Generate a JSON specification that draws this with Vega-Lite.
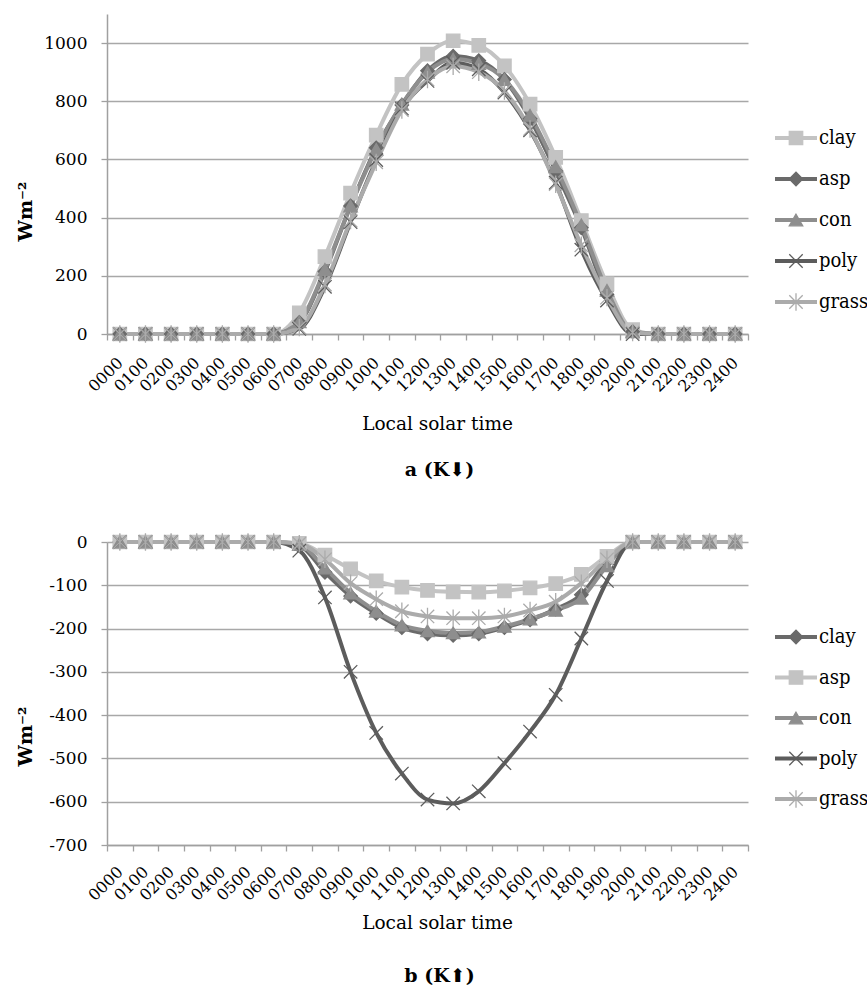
{
  "$schema": "https://vega.github.io/schema/vega-lite/v6.json",
  "padding": {"left": 16, "top": 14, "right": 0, "bottom": 0},
  "background": "white",
  "config": {
    "font": "DejaVu Serif",
    "view": {"stroke": null},
    "axis": {"labelFont": "DejaVu Serif", "titleFont": "DejaVu Serif", "labelColor": "black", "titleColor": "black"},
    "title": {"font": "DejaVu Serif", "color": "black"},
    "text": {"font": "DejaVu Serif"}
  },
  "datasets": {
    "top": [
      {"t": "0000", "clay": 0, "asp": 0, "con": 0, "poly": 0, "grass": 0},
      {"t": "0100", "clay": 0, "asp": 0, "con": 0, "poly": 0, "grass": 0},
      {"t": "0200", "clay": 0, "asp": 0, "con": 0, "poly": 0, "grass": 0},
      {"t": "0300", "clay": 0, "asp": 0, "con": 0, "poly": 0, "grass": 0},
      {"t": "0400", "clay": 0, "asp": 0, "con": 0, "poly": 0, "grass": 0},
      {"t": "0500", "clay": 0, "asp": 0, "con": 0, "poly": 0, "grass": 0},
      {"t": "0600", "clay": 0, "asp": 0, "con": 0, "poly": 0, "grass": 0},
      {"t": "0700", "clay": 73, "asp": 40, "con": 42, "poly": 18, "grass": 22},
      {"t": "0800", "clay": 266, "asp": 215, "con": 222, "poly": 162, "grass": 170},
      {"t": "0900", "clay": 484, "asp": 440, "con": 440, "poly": 385, "grass": 390},
      {"t": "1000", "clay": 684, "asp": 640, "con": 635, "poly": 598, "grass": 590},
      {"t": "1100", "clay": 858, "asp": 787, "con": 790, "poly": 775, "grass": 770},
      {"t": "1200", "clay": 962, "asp": 905, "con": 900, "poly": 870, "grass": 875},
      {"t": "1300", "clay": 1008, "asp": 955, "con": 945, "poly": 932, "grass": 920},
      {"t": "1400", "clay": 992, "asp": 940, "con": 930, "poly": 910, "grass": 900},
      {"t": "1500", "clay": 922, "asp": 875, "con": 875, "poly": 830, "grass": 835},
      {"t": "1600", "clay": 790, "asp": 740, "con": 752, "poly": 700, "grass": 705},
      {"t": "1700", "clay": 607, "asp": 560, "con": 575, "poly": 520, "grass": 515},
      {"t": "1800", "clay": 390, "asp": 365, "con": 375, "poly": 290, "grass": 305},
      {"t": "1900", "clay": 172, "asp": 135, "con": 150, "poly": 115, "grass": 125},
      {"t": "2000", "clay": 15, "asp": 8, "con": 8, "poly": 0, "grass": 5},
      {"t": "2100", "clay": 0, "asp": 0, "con": 0, "poly": 0, "grass": 0},
      {"t": "2200", "clay": 0, "asp": 0, "con": 0, "poly": 0, "grass": 0},
      {"t": "2300", "clay": 0, "asp": 0, "con": 0, "poly": 0, "grass": 0},
      {"t": "2400", "clay": 0, "asp": 0, "con": 0, "poly": 0, "grass": 0}
    ],
    "bottom": [
      {"t": "0000", "clay": 0, "asp": 0, "con": 0, "poly": 0, "grass": 0},
      {"t": "0100", "clay": 0, "asp": 0, "con": 0, "poly": 0, "grass": 0},
      {"t": "0200", "clay": 0, "asp": 0, "con": 0, "poly": 0, "grass": 0},
      {"t": "0300", "clay": 0, "asp": 0, "con": 0, "poly": 0, "grass": 0},
      {"t": "0400", "clay": 0, "asp": 0, "con": 0, "poly": 0, "grass": 0},
      {"t": "0500", "clay": 0, "asp": 0, "con": 0, "poly": 0, "grass": 0},
      {"t": "0600", "clay": 0, "asp": 0, "con": 0, "poly": 0, "grass": 0},
      {"t": "0700", "clay": -8, "asp": -3, "con": -6, "poly": -20, "grass": -4},
      {"t": "0800", "clay": -70, "asp": -30, "con": -60, "poly": -128, "grass": -40},
      {"t": "0900", "clay": -125, "asp": -62, "con": -118, "poly": -300, "grass": -95},
      {"t": "1000", "clay": -165, "asp": -90, "con": -160, "poly": -441, "grass": -132},
      {"t": "1100", "clay": -198, "asp": -104, "con": -192, "poly": -535, "grass": -160},
      {"t": "1200", "clay": -212, "asp": -112, "con": -205, "poly": -595, "grass": -172},
      {"t": "1300", "clay": -216, "asp": -115, "con": -210, "poly": -604, "grass": -176},
      {"t": "1400", "clay": -212, "asp": -116, "con": -208, "poly": -576, "grass": -176},
      {"t": "1500", "clay": -198, "asp": -113, "con": -195, "poly": -511, "grass": -172},
      {"t": "1600", "clay": -180, "asp": -106, "con": -178, "poly": -438, "grass": -158},
      {"t": "1700", "clay": -155, "asp": -96, "con": -158, "poly": -353, "grass": -138},
      {"t": "1800", "clay": -122, "asp": -75, "con": -130, "poly": -223, "grass": -95},
      {"t": "1900", "clay": -45, "asp": -33, "con": -55, "poly": -90, "grass": -40},
      {"t": "2000", "clay": 0, "asp": 0, "con": 0, "poly": 0, "grass": 0},
      {"t": "2100", "clay": 0, "asp": 0, "con": 0, "poly": 0, "grass": 0},
      {"t": "2200", "clay": 0, "asp": 0, "con": 0, "poly": 0, "grass": 0},
      {"t": "2300", "clay": 0, "asp": 0, "con": 0, "poly": 0, "grass": 0},
      {"t": "2400", "clay": 0, "asp": 0, "con": 0, "poly": 0, "grass": 0}
    ],
    "legend": [{"s": "clay"}, {"s": "asp"}, {"s": "con"}, {"s": "poly"}, {"s": "grass"}]
  },
  "columns": 2,
  "bounds": "flush",
  "spacing": {"row": 208, "column": 27},
  "resolve": {"scale": {"color": "independent", "fill": "independent", "stroke": "independent", "shape": "independent", "x": "independent", "y": "independent"}},
  "concat": [
    {
      "width": 641,
      "height": 320,
      "data": {"name": "top"},
      "transform": [{"fold": ["clay", "asp", "con", "poly", "grass"], "as": ["s", "v"]}],
      "title": {"text": "a (K⬇)", "orient": "bottom", "anchor": "middle", "dx": 12, "offset": 28, "fontSize": 19, "fontWeight": "bold"},
      "encoding": {
        "x": {"field": "t", "type": "ordinal", "scale": {"type": "band", "paddingInner": 0, "paddingOuter": 0},
          "axis": {"title": "Local solar time", "labelAngle": -45, "labelAlign": "right", "labelBaseline": "middle", "labelFontSize": 16, "tickBand": "extent", "tickSize": 6, "tickColor": "#a0a0a0", "tickWidth": 1.3, "domainColor": "#a0a0a0", "domainWidth": 1.5, "grid": false, "labelPadding": 20, "labelOverlap": false, "labelFlush": false, "titleFontSize": 18.5, "titleFontWeight": "normal", "titleY": 89, "titleX": 330, "titleBaseline": "middle", "titleAlign": "center"}},
        "y": {"field": "v", "type": "quantitative", "scale": {"domain": [0, 1100], "nice": false},
          "axis": {"values": [0, 200, 400, 600, 800, 1000], "labelExpr": "'' + datum.value", "title": "Wm⁻²", "titleFontSize": 19, "titleFontWeight": "bold", "titleAngle": -90, "titleX": -72, "titleY": 197, "titleAlign": "center", "titleBaseline": "bottom", "labelFontSize": 17, "labelPadding": 14, "tickSize": 6, "tickColor": "#a0a0a0", "tickWidth": 1.3, "domainColor": "#a0a0a0", "domainWidth": 1.5, "gridColor": "#a8a8a8", "gridWidth": 1.5, "grid": true}}
      },
      "layer": [
        {"mark": {"type": "line", "interpolate": "monotone", "strokeWidth": 4},
          "encoding": {"color": {"field": "s", "type": "nominal", "scale": {"domain": ["clay", "asp", "con", "poly", "grass"], "range": ["#c3c3c3", "#6a6a6a", "#8e8e8e", "#5c5c5c", "#ababab"]}, "legend": null}}},
        {"mark": {"type": "point", "filled": true, "size": 180, "strokeWidth": 1.3, "opacity": 1},
          "encoding": {
            "fill": {"field": "s", "type": "nominal", "scale": {"domain": ["clay", "asp", "con", "poly", "grass"], "range": ["#c3c3c3", "#6a6a6a", "#8e8e8e", "#5c5c5c", "#ababab"]}, "legend": null},
            "stroke": {"field": "s", "type": "nominal", "scale": {"domain": ["clay", "asp", "con", "poly", "grass"], "range": ["#c3c3c3", "#6a6a6a", "#8e8e8e", "#5c5c5c", "#ababab"]}, "legend": null},
            "shape": {"field": "s", "type": "nominal", "scale": {"domain": ["clay", "asp", "con", "poly", "grass"], "range": ["square", "diamond", "triangle-up", "M-1,-1L1,1M-1,1L1,-1", "M-1,-1L1,1M-1,1L1,-1M0,-1.3L0,1.3"]}, "legend": null}
          }}
      ]
    },
    {
      "width": 42,
      "height": 320,
      "data": {"name": "legend"},
      "encoding": {"y": {"field": "s", "type": "nominal", "sort": null, "scale": {"type": "point", "padding": 0, "range": [124, 288]}, "axis": null}},
      "layer": [
        {"mark": {"type": "rule", "strokeWidth": 4},
          "encoding": {"x": {"datum": 0, "type": "quantitative", "scale": {"domain": [0, 1], "nice": false}, "axis": null}, "x2": {"datum": 1},
            "color": {"field": "s", "type": "nominal", "scale": {"domain": ["clay", "asp", "con", "poly", "grass"], "range": ["#c3c3c3", "#6a6a6a", "#8e8e8e", "#5c5c5c", "#ababab"]}, "legend": null}}},
        {"mark": {"type": "point", "filled": true, "size": 180, "strokeWidth": 1.3, "opacity": 1},
          "encoding": {"x": {"datum": 0.5, "type": "quantitative"},
            "fill": {"field": "s", "type": "nominal", "scale": {"domain": ["clay", "asp", "con", "poly", "grass"], "range": ["#c3c3c3", "#6a6a6a", "#8e8e8e", "#5c5c5c", "#ababab"]}, "legend": null},
            "stroke": {"field": "s", "type": "nominal", "scale": {"domain": ["clay", "asp", "con", "poly", "grass"], "range": ["#c3c3c3", "#6a6a6a", "#8e8e8e", "#5c5c5c", "#ababab"]}, "legend": null},
            "shape": {"field": "s", "type": "nominal", "scale": {"domain": ["clay", "asp", "con", "poly", "grass"], "range": ["square", "diamond", "triangle-up", "M-1,-1L1,1M-1,1L1,-1", "M-1,-1L1,1M-1,1L1,-1M0,-1.3L0,1.3"]}, "legend": null}}},
        {"mark": {"type": "text", "align": "left", "baseline": "middle", "dx": 2, "fontSize": 20, "font": "DejaVu Serif Condensed", "color": "black"},
          "encoding": {"x": {"datum": 1, "type": "quantitative"}, "text": {"field": "s"}}}
      ]
    },
    {
      "width": 641,
      "height": 303,
      "data": {"name": "bottom"},
      "transform": [{"fold": ["clay", "asp", "con", "poly", "grass"], "as": ["s", "v"]}],
      "title": {"text": "b (K⬆)", "orient": "bottom", "anchor": "middle", "dx": 12, "offset": 35, "fontSize": 19, "fontWeight": "bold"},
      "encoding": {
        "x": {"field": "t", "type": "ordinal", "scale": {"type": "band", "paddingInner": 0, "paddingOuter": 0},
          "axis": {"title": "Local solar time", "labelAngle": -45, "labelAlign": "right", "labelBaseline": "middle", "labelFontSize": 16, "tickBand": "extent", "tickSize": 6, "tickColor": "#a0a0a0", "tickWidth": 1.3, "domainColor": "#a0a0a0", "domainWidth": 1.5, "grid": false, "labelPadding": 18, "labelOverlap": false, "labelFlush": false, "titleFontSize": 18.5, "titleFontWeight": "normal", "titleY": 77, "titleX": 330, "titleBaseline": "middle", "titleAlign": "center"}},
        "y": {"field": "v", "type": "quantitative", "scale": {"domain": [-700, 0], "nice": false},
          "axis": {"values": [-700, -600, -500, -400, -300, -200, -100, 0], "labelExpr": "'' + datum.value", "title": "Wm⁻²", "titleFontSize": 19, "titleFontWeight": "bold", "titleAngle": -90, "titleX": -72, "titleY": 194, "titleAlign": "center", "titleBaseline": "bottom", "labelFontSize": 17, "labelPadding": 14, "tickSize": 6, "tickColor": "#a0a0a0", "tickWidth": 1.3, "domainColor": "#a0a0a0", "domainWidth": 1.5, "gridColor": "#a8a8a8", "gridWidth": 1.5, "grid": true}}
      },
      "layer": [
        {"mark": {"type": "line", "interpolate": "monotone", "strokeWidth": 4},
          "encoding": {"color": {"field": "s", "type": "nominal", "scale": {"domain": ["clay", "asp", "con", "poly", "grass"], "range": ["#6a6a6a", "#c3c3c3", "#8e8e8e", "#5c5c5c", "#ababab"]}, "legend": null}}},
        {"mark": {"type": "point", "filled": true, "size": 180, "strokeWidth": 1.3, "opacity": 1},
          "encoding": {
            "fill": {"field": "s", "type": "nominal", "scale": {"domain": ["clay", "asp", "con", "poly", "grass"], "range": ["#6a6a6a", "#c3c3c3", "#8e8e8e", "#5c5c5c", "#ababab"]}, "legend": null},
            "stroke": {"field": "s", "type": "nominal", "scale": {"domain": ["clay", "asp", "con", "poly", "grass"], "range": ["#6a6a6a", "#c3c3c3", "#8e8e8e", "#5c5c5c", "#ababab"]}, "legend": null},
            "shape": {"field": "s", "type": "nominal", "scale": {"domain": ["clay", "asp", "con", "poly", "grass"], "range": ["diamond", "square", "triangle-up", "M-1,-1L1,1M-1,1L1,-1", "M-1,-1L1,1M-1,1L1,-1M0,-1.3L0,1.3"]}, "legend": null}
          }}
      ]
    },
    {
      "width": 42,
      "height": 303,
      "data": {"name": "legend"},
      "encoding": {"y": {"field": "s", "type": "nominal", "sort": null, "scale": {"type": "point", "padding": 0, "range": [95, 257]}, "axis": null}},
      "layer": [
        {"mark": {"type": "rule", "strokeWidth": 4},
          "encoding": {"x": {"datum": 0, "type": "quantitative", "scale": {"domain": [0, 1], "nice": false}, "axis": null}, "x2": {"datum": 1},
            "color": {"field": "s", "type": "nominal", "scale": {"domain": ["clay", "asp", "con", "poly", "grass"], "range": ["#6a6a6a", "#c3c3c3", "#8e8e8e", "#5c5c5c", "#ababab"]}, "legend": null}}},
        {"mark": {"type": "point", "filled": true, "size": 180, "strokeWidth": 1.3, "opacity": 1},
          "encoding": {"x": {"datum": 0.5, "type": "quantitative"},
            "fill": {"field": "s", "type": "nominal", "scale": {"domain": ["clay", "asp", "con", "poly", "grass"], "range": ["#6a6a6a", "#c3c3c3", "#8e8e8e", "#5c5c5c", "#ababab"]}, "legend": null},
            "stroke": {"field": "s", "type": "nominal", "scale": {"domain": ["clay", "asp", "con", "poly", "grass"], "range": ["#6a6a6a", "#c3c3c3", "#8e8e8e", "#5c5c5c", "#ababab"]}, "legend": null},
            "shape": {"field": "s", "type": "nominal", "scale": {"domain": ["clay", "asp", "con", "poly", "grass"], "range": ["diamond", "square", "triangle-up", "M-1,-1L1,1M-1,1L1,-1", "M-1,-1L1,1M-1,1L1,-1M0,-1.3L0,1.3"]}, "legend": null}}},
        {"mark": {"type": "text", "align": "left", "baseline": "middle", "dx": 2, "fontSize": 20, "font": "DejaVu Serif Condensed", "color": "black"},
          "encoding": {"x": {"datum": 1, "type": "quantitative"}, "text": {"field": "s"}}}
      ]
    }
  ]
}
